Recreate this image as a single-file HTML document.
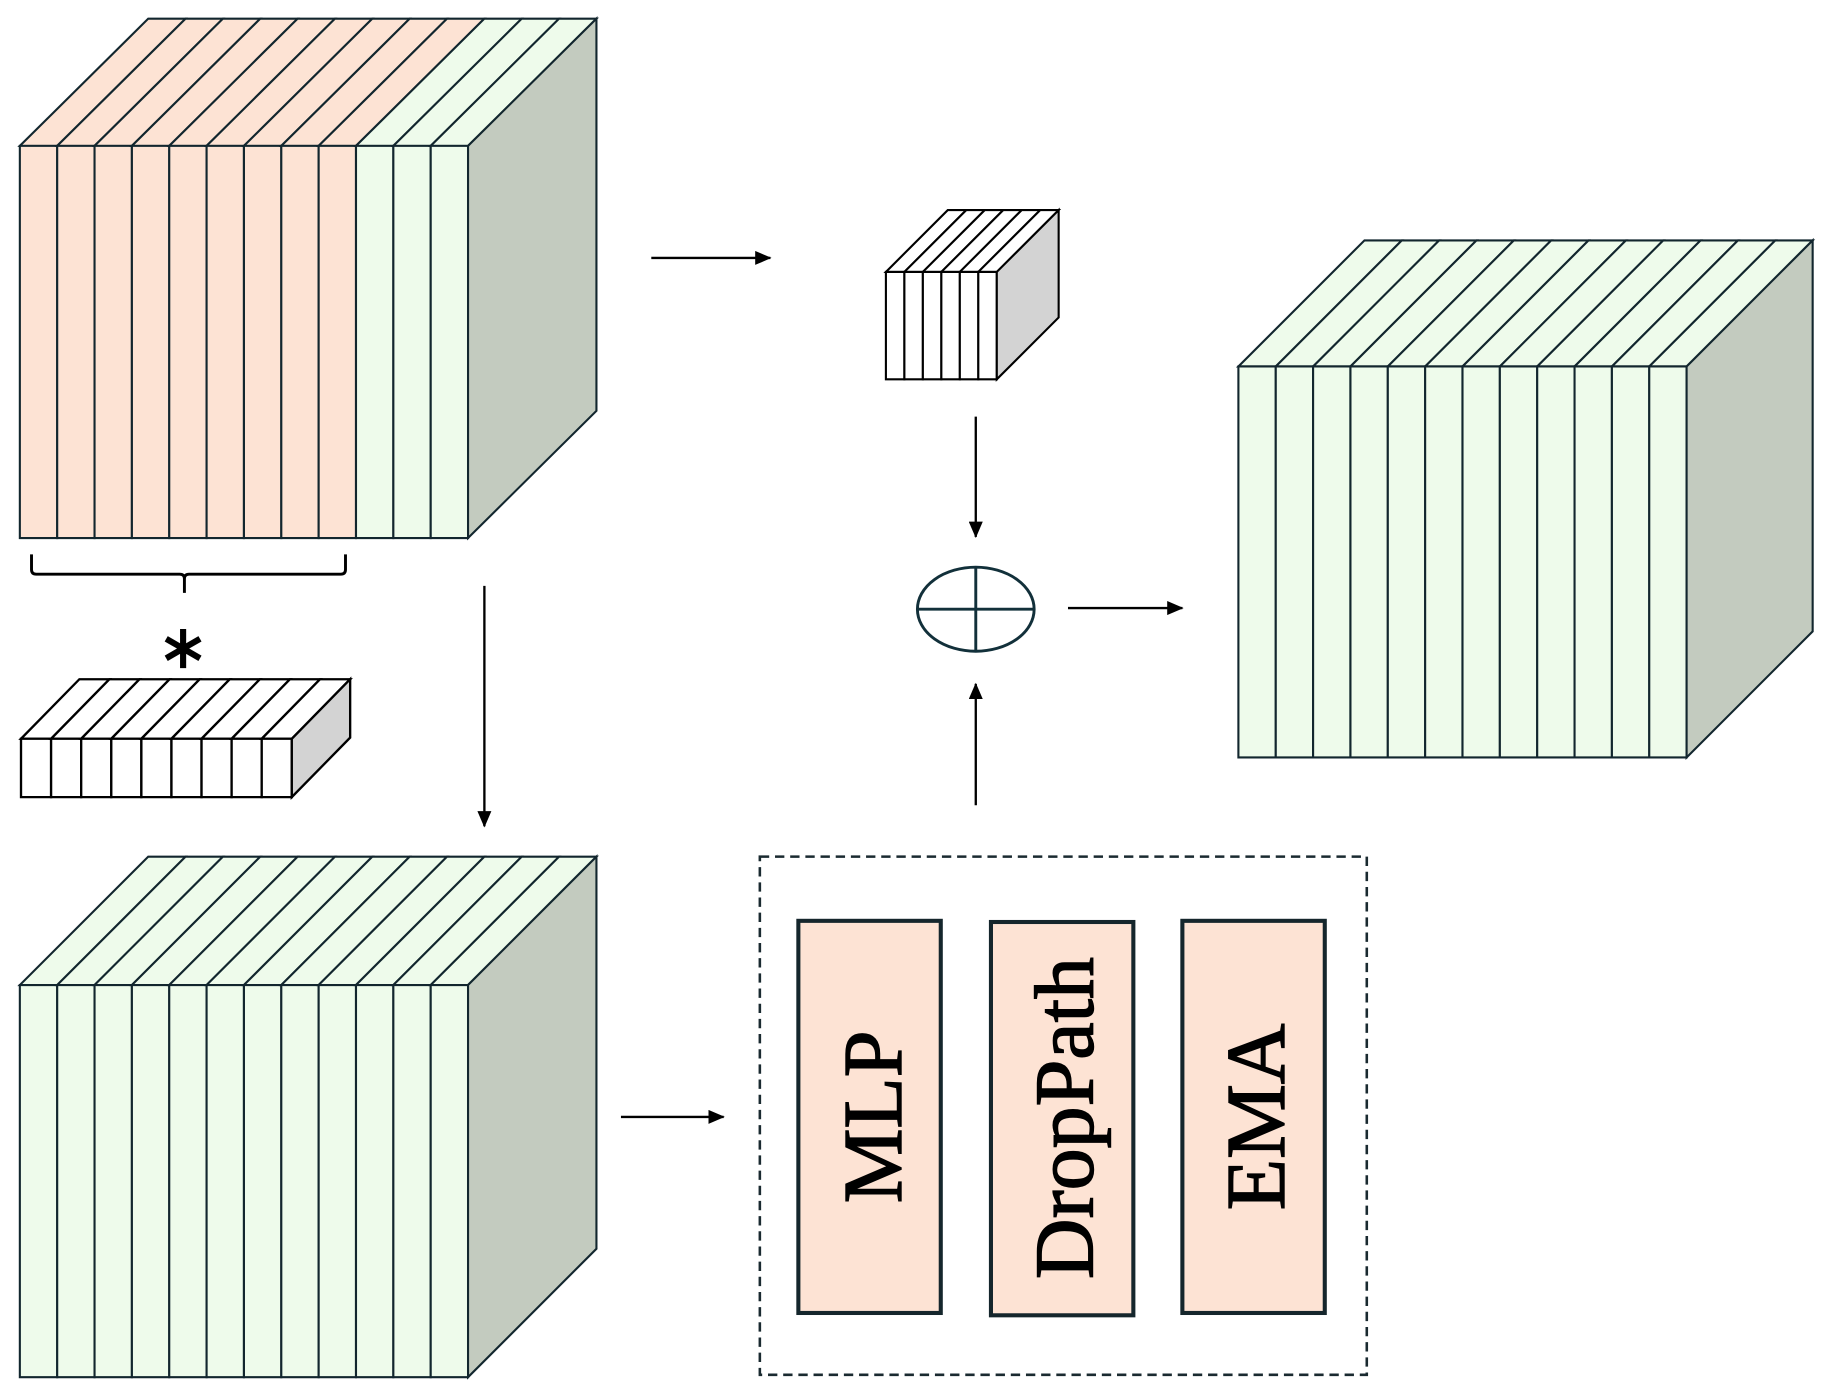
<!DOCTYPE html>
<html><head><meta charset="utf-8"><style>
html,body{margin:0;padding:0;background:#fff;}
svg{display:block;}
</style></head><body>
<svg id="s" width="1829" height="1397" viewBox="0 0 1567 1197" preserveAspectRatio="none" xmlns="http://www.w3.org/2000/svg">
<defs>
<marker id="ah" markerWidth="14" markerHeight="12" refX="13" refY="6" orient="auto" markerUnits="userSpaceOnUse" viewBox="0 0 14 12">
<path d="M0,0 L14,6 L0,12 z" fill="#000"/>
</marker>
</defs>
<g id="cubes"></g>
<!-- brace -->
<path d="M27,475 L27,488 Q27,492 31,492 L154,492 Q158,492 158,496 L158,508 M158,496 Q158,492 162,492 L292,492 Q296,492 296,488 L296,475" fill="none" stroke="#000" stroke-width="2.5"/>
<text x="157" y="572" font-family="Liberation Serif, serif" font-size="52" text-anchor="middle" stroke="#000" stroke-width="1">∗</text>
<!-- arrows -->
<g stroke="#000" stroke-width="2" fill="none">
<line x1="558" y1="221" x2="660" y2="221" marker-end="url(#ah)"/>
<line x1="836" y1="357" x2="836" y2="460" marker-end="url(#ah)"/>
<line x1="915" y1="521" x2="1013" y2="521" marker-end="url(#ah)"/>
<line x1="836" y1="690" x2="836" y2="586" marker-end="url(#ah)"/>
<line x1="415" y1="502" x2="415" y2="708" marker-end="url(#ah)"/>
<line x1="532" y1="957" x2="620" y2="957" marker-end="url(#ah)"/>
</g>
<!-- oplus -->
<ellipse cx="836" cy="522" rx="50" ry="36" fill="#fff" stroke="#12303a" stroke-width="2.5"/>
<line x1="786" y1="522" x2="886" y2="522" stroke="#12303a" stroke-width="2.5"/>
<line x1="836" y1="486" x2="836" y2="558" stroke="#12303a" stroke-width="2.5"/>
<!-- dashed box -->
<rect x="651" y="734" width="520" height="444" fill="none" stroke="#1a2a30" stroke-width="2.2" stroke-dasharray="8,5"/>
<g stroke="#15262c" stroke-width="3.5" fill="#fde3d4">
<rect x="684" y="789" width="122" height="336"/>
<rect x="849" y="790" width="122" height="337"/>
<rect x="1013" y="789" width="122" height="336"/>
</g>
<g font-family="Liberation Serif, serif" font-size="72" fill="#000" text-anchor="middle" stroke="#000" stroke-width="1.2">
<text transform="translate(772,957) rotate(-90)">MLP</text>
<text transform="translate(936,958) rotate(-90)">DropPath</text>
<text transform="translate(1100,957) rotate(-90)">EMA</text>
</g>
</svg>
<script>
(function(){
var g=document.getElementById('cubes');var NS='http://www.w3.org/2000/svg';
function poly(pts,fill,sw,stroke){var p=document.createElementNS(NS,'polygon');p.setAttribute('points',pts.map(function(a){return a.join(',')}).join(' '));p.setAttribute('fill',fill);p.setAttribute('stroke',stroke||'#12262e');p.setAttribute('stroke-width',sw);p.setAttribute('stroke-linejoin','miter');g.appendChild(p);}
function cube(x0,y0,x1,y1,dx,dy,n,colorFn,side,sw,stroke){
 var w=(x1-x0)/n;
 for(var i=0;i<n;i++){var a=x0+i*w,b=a+w,c=colorFn(i);
  poly([[a,y0],[b,y0],[b+dx,y0+dy],[a+dx,y0+dy]],c,sw,stroke);
  poly([[a,y0],[b,y0],[b,y1],[a,y1]],c,sw,stroke);}
 poly([[x1,y0],[x1+dx,y0+dy],[x1+dx,y1+dy],[x1,y1]],side,sw,stroke);
}
var P='#fde3d4',G='#eefbeb';
cube(17,125,401,461,110,-109,12,function(i){return i<9?P:G},'#c3cbbf',1.8);
cube(18,633,250,683,50,-51,9,function(){return '#fff'},'#d3d3d3',2,'#000');
cube(759,233,854,325,53,-53,6,function(){return '#fff'},'#d3d3d3',1.8,'#000');
cube(1061,314,1445,649,108,-108,12,function(){return G},'#c3cbbf',1.8);
cube(17,844,401,1180,110,-110,12,function(){return G},'#c3cbbf',1.8);
})();
</script>
</body></html>
